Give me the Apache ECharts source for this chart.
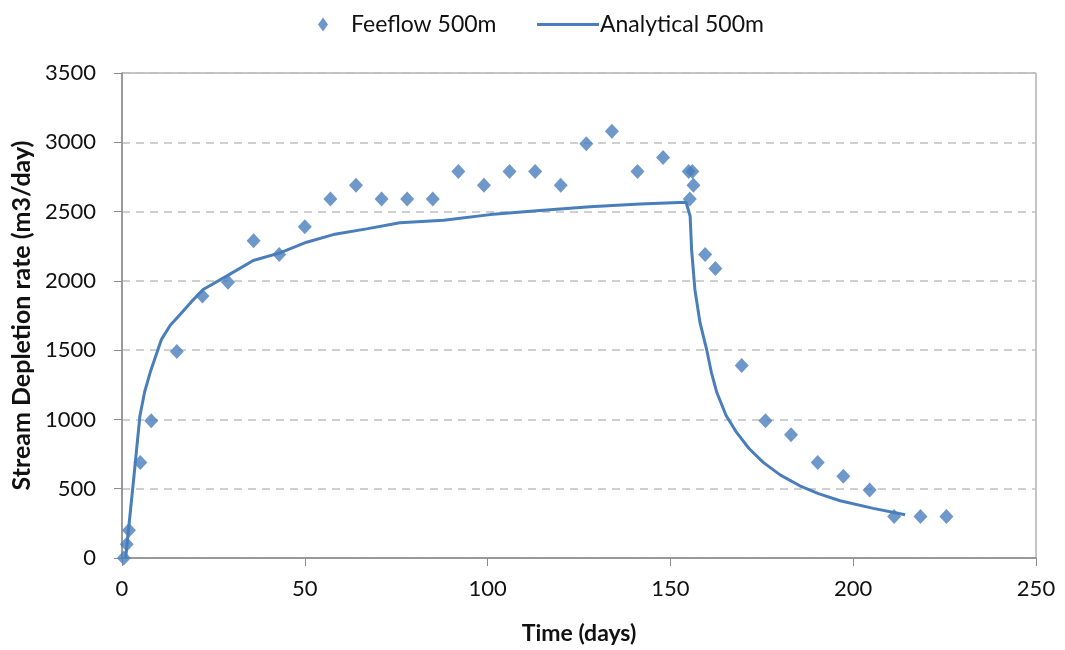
<!DOCTYPE html>
<html>
<head>
<meta charset="utf-8">
<script src="https://cdn.jsdelivr.net/npm/echarts@6/dist/echarts.min.js"></script>
<style>
  html, body { margin: 0; padding: 0; background: #fff; }
  #main { width: 1065px; height: 650px; }
</style>
</head>
<body>
<div id="main"></div>
<script>
// 数据
var feeflowDays = [0.5, 1.3, 1.9, 5, 8, 15, 22, 29, 36, 43, 50, 57, 64, 71, 78, 85, 92, 99, 106, 113, 120, 127, 134, 141, 148, 155, 156, 156.3, 155.3, 159.5, 162.3, 169.5, 176, 183, 190.3, 197.3, 204.5, 211.2, 218.4, 225.5];
var feeflowRate = [0, 100, 200, 690, 990, 1490, 1890, 1990, 2290, 2190, 2390, 2590, 2690, 2590, 2590, 2590, 2790, 2690, 2790, 2790, 2690, 2990, 3080, 2790, 2890, 2790, 2790, 2690, 2590, 2190, 2090, 1390, 990, 890, 690, 590, 490, 300, 300, 300];

var analyticalDays = [1, 1.7, 3.1, 4.9, 6.2, 7.7, 10.8, 13.2, 15.9, 19, 22.2, 28.6, 35.9, 43.2, 50.5, 57.8, 66.9, 76, 88, 100.7, 114.3, 128, 141.7, 154.3, 155.4, 155.8, 156.7, 158.1, 159.9, 161.2, 162.7, 165.2, 168.1, 171.5, 175.4, 180, 185.4, 190.5, 196.4, 205.5, 214.2];
var analyticalRate = [0, 185, 545, 1025, 1200, 1338, 1578, 1680, 1758, 1850, 1938, 2034, 2147, 2202, 2279, 2334, 2375, 2419, 2438, 2478, 2507, 2534, 2555, 2567, 2466, 2226, 1938, 1698, 1506, 1340, 1194, 1030, 906, 790, 690, 600, 521, 465, 413, 358, 312];

var xTicks = { min: 0, max: 250, interval: 50 };
var yTicks = { min: 0, max: 3500, interval: 500 };

var blue = '#4a7ebb';
var font = 'Lato, "Open Sans", sans-serif';

function pairs(xs, ys) {
  var out = [];
  for (var i = 0; i < xs.length; i++) out.push([xs[i], ys[i]]);
  return out;
}

var myChart = echarts.init(document.getElementById('main'));
var option = {
  animation: false,
  textStyle: { fontFamily: font },
  legend: [
    {
      data: ['Feeflow 500m'],
      left: 313, top: 8,
      icon: 'diamond',
      itemWidth: 10, itemHeight: 14,
      textStyle: { fontSize: 23, color: '#111', padding: [0, 0, 0, 18] }
    },
    {
      data: ['Analytical 500m'],
      left: 532, top: 8,
      icon: 'rect',
      itemWidth: 62, itemHeight: 3,
      itemStyle: { color: blue },
      textStyle: { fontSize: 23, color: '#111', padding: [0, 0, 0, -4] }
    }
  ],
  grid: {
    left: 122, right: 29, top: 73, bottom: 91,
    show: true, borderColor: '#8c8c8c', borderWidth: 1
  },
  xAxis: {
    type: 'value',
    min: xTicks.min, max: xTicks.max, interval: xTicks.interval,
    name: 'Time (days)', nameLocation: 'middle', nameGap: 64,
    nameTextStyle: { fontSize: 23, fontWeight: 'bold', color: '#111' },
    axisLine: { lineStyle: { color: '#8c8c8c', width: 1.5 } },
    axisTick: { show: true, length: 8, lineStyle: { color: '#8c8c8c' } },
    axisLabel: { fontSize: 22, color: '#111', margin: 20 },
    splitLine: { show: false }
  },
  yAxis: {
    type: 'value',
    min: yTicks.min, max: yTicks.max, interval: yTicks.interval,
    name: 'Stream Depletion rate (m3/day)', nameLocation: 'middle', nameGap: 86,
    nameTextStyle: { fontSize: 25, fontWeight: 'bold', color: '#111' },
    axisLine: { show: true, lineStyle: { color: '#8c8c8c', width: 1.5 } },
    axisTick: { show: true, length: 8, lineStyle: { color: '#8c8c8c' } },
    axisLabel: { fontSize: 22, color: '#111', margin: 26, formatter: function (v) { return String(v); } },
    splitLine: { show: true, lineStyle: { color: '#c0c0c0', type: [8, 6], width: 1.5 } }
  },
  series: [
    {
      name: 'Feeflow 500m',
      type: 'scatter',
      symbol: 'diamond',
      symbolSize: [14, 15],
      itemStyle: { color: blue },
      data: pairs(feeflowDays, feeflowRate)
    },
    {
      name: 'Analytical 500m',
      type: 'line',
      showSymbol: false,
      symbol: 'none',
      lineStyle: { color: blue, width: 3 },
      itemStyle: { color: blue },
      data: pairs(analyticalDays, analyticalRate)
    }
  ]
};
myChart.setOption(option);
</script>
</body>
</html>
